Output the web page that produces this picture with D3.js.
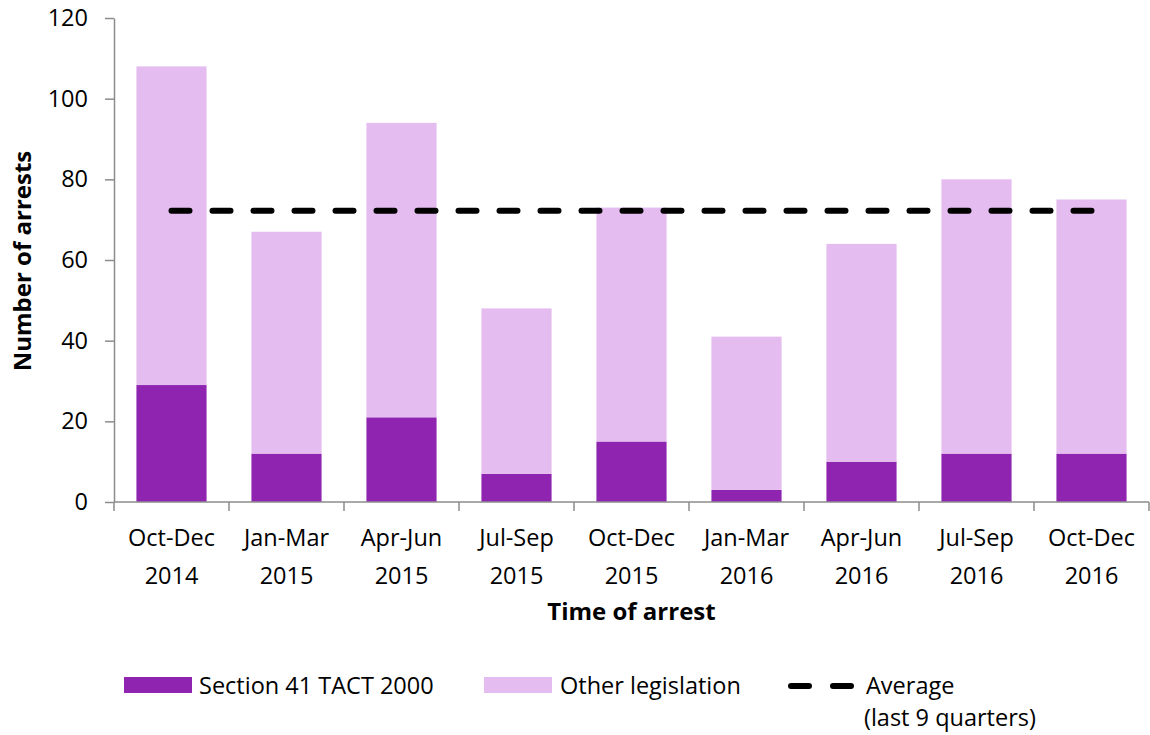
<!DOCTYPE html>
<meta charset="utf-8">
<html>

<head>
    <script src="https://d3js.org/d3.v7.min.js"></script>
    <style>
        body { margin: 0; background: #fff; }
        svg text { font-family: "Open Sans", sans-serif; fill: #000; }
    </style>
</head>

<body>
    <div id="chart"></div>

    <script>
        // data
        const quarters = ["Oct-Dec", "Jan-Mar", "Apr-Jun", "Jul-Sep", "Oct-Dec", "Jan-Mar", "Apr-Jun", "Jul-Sep", "Oct-Dec"];
        const years = ["2014", "2015", "2015", "2015", "2015", "2016", "2016", "2016", "2016"];
        const section41 = [29, 12, 21, 7, 15, 3, 10, 12, 12];
        const otherLegislation = [79, 55, 73, 41, 58, 38, 54, 68, 63];
        const averageValue = 72.2;
        const yTicks = [0, 20, 40, 60, 80, 100, 120];

        const W = 1150, H = 735;
        const plotLeft = 114, plotRight = 1149, plotTop = 18, plotBottom = 502;
        const fontSize = "23.5px", titleSize = "24px";

        const svg = d3.select("#chart").append("svg")
            .attr("width", W)
            .attr("height", H);

        const keys = quarters.map((q, i) => i);
        const x = d3.scaleBand().domain(keys).range([plotLeft, plotRight])
            .paddingInner(0.39).paddingOuter(0.195);
        const y = d3.scaleLinear().domain([0, 120]).range([plotBottom, plotTop]);

        const darkColor = "#8e24b0", lightColor = "#e4bcf0", axisColor = "#8c8c8c";

        // bars - stacked
        const stackData = keys.map(i => ({ key: i, s41: section41[i], other: otherLegislation[i] }));
        const series = d3.stack().keys(["s41", "other"])(stackData);
        const color = d3.scaleOrdinal().domain(["s41", "other"]).range([darkColor, lightColor]);

        svg.append("g").selectAll("g").data(series).enter().append("g")
            .attr("fill", d => color(d.key))
            .selectAll("rect").data(d => d).enter().append("rect")
            .attr("x", d => x(d.data.key))
            .attr("width", x.bandwidth())
            .attr("y", d => y(d[1]))
            .attr("height", d => y(d[0]) - y(d[1]));

        // y axis
        const yAxis = svg.append("g")
            .attr("transform", `translate(${plotLeft},0)`)
            .call(d3.axisLeft(y).tickValues(yTicks).tickSize(9).tickSizeOuter(0).tickPadding(17));
        yAxis.select(".domain").attr("stroke", axisColor).attr("stroke-width", 1.5);
        yAxis.selectAll(".tick line").attr("stroke", axisColor).attr("stroke-width", 1.5);
        yAxis.selectAll(".tick text").style("font-size", fontSize).attr("fill", "#000");

        // x axis line + boundary ticks
        const xAxis = svg.append("g");
        xAxis.append("line")
            .attr("x1", plotLeft).attr("x2", plotRight)
            .attr("y1", plotBottom).attr("y2", plotBottom)
            .attr("stroke", axisColor).attr("stroke-width", 1.5);
        xAxis.selectAll(".bt").data(d3.range(keys.length + 1)).enter().append("line")
            .attr("x1", i => plotLeft + i * x.step()).attr("x2", i => plotLeft + i * x.step())
            .attr("y1", plotBottom).attr("y2", plotBottom + 9)
            .attr("stroke", axisColor).attr("stroke-width", 1.5);

        // x labels (two lines)
        const xl = xAxis.selectAll(".lab").data(keys).enter().append("text")
            .attr("text-anchor", "middle")
            .style("font-size", fontSize);
        xl.append("tspan")
            .attr("x", i => x(i) + x.bandwidth() / 2)
            .attr("y", 546)
            .text(i => quarters[i]);
        xl.append("tspan")
            .attr("x", i => x(i) + x.bandwidth() / 2)
            .attr("y", 584)
            .text(i => years[i]);

        // average line
        svg.append("line")
            .attr("x1", x(0) + x.bandwidth() / 2)
            .attr("x2", x(keys.length - 1) + x.bandwidth() / 2)
            .attr("y1", y(averageValue)).attr("y2", y(averageValue))
            .attr("stroke", "#000").attr("stroke-width", 6)
            .attr("stroke-dasharray", "18,23")
            .attr("stroke-linecap", "round");

        // axis titles
        svg.append("text")
            .attr("x", (plotLeft + plotRight) / 2).attr("y", 620)
            .attr("text-anchor", "middle")
            .style("font-size", titleSize).style("font-weight", "bold")
            .text("Time of arrest");

        svg.append("text")
            .attr("transform", `translate(31,261) rotate(-90)`)
            .attr("text-anchor", "middle")
            .style("font-size", titleSize).style("font-weight", "bold")
            .text("Number of arrests");

        // legend
        const legend = svg.append("g");
        legend.append("rect").attr("x", 124).attr("y", 677).attr("width", 68).attr("height", 16).attr("fill", darkColor);
        legend.append("text").attr("x", 199).attr("y", 694).style("font-size", fontSize).text("Section 41 TACT 2000");
        legend.append("rect").attr("x", 484).attr("y", 677).attr("width", 68).attr("height", 16).attr("fill", lightColor);
        legend.append("text").attr("x", 560).attr("y", 694).style("font-size", fontSize).text("Other legislation");
        legend.append("line")
            .attr("x1", 791).attr("x2", 851).attr("y1", 686).attr("y2", 686)
            .attr("stroke", "#000").attr("stroke-width", 6)
            .attr("stroke-dasharray", "18,24").attr("stroke-linecap", "round");
        const avgText = legend.append("text").style("font-size", fontSize);
        avgText.append("tspan").attr("x", 866).attr("y", 694).text("Average");
        avgText.append("tspan").attr("x", 864).attr("y", 726).text("(last 9 quarters)");
    </script>
</body>

</html>
